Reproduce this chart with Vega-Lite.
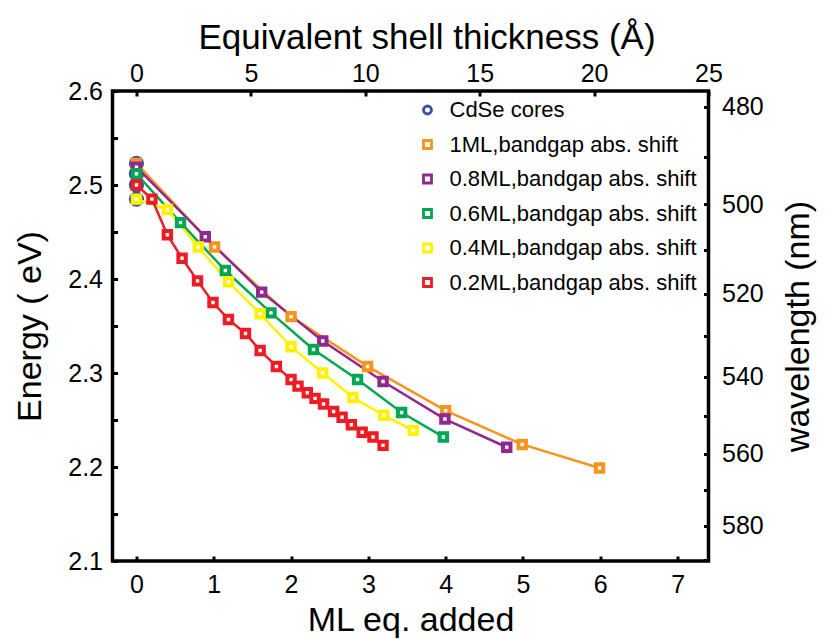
{
  "$schema": "https://vega.github.io/schema/vega-lite/v6.json",
  "width": 596,
  "height": 470,
  "autosize": {"type": "none"},
  "padding": {"left": 112.5, "top": 91, "right": 116.5, "bottom": 78},
  "config": {
    "font": "Liberation Sans",
    "view": {"stroke": "black", "strokeWidth": 3.5},
    "axis": {
      "domain": false, "grid": false, "tickColor": "black", "tickWidth": 3, "tickSize": -5,
      "labelFontSize": 25, "labelColor": "black", "labelFont": "Liberation Sans",
      "titleFontSize": 34, "titleFontWeight": "normal", "titleColor": "black", "titleFont": "Liberation Sans",
      "labelOverlap": false, "labelFlush": false
    }
  },
  "datasets": {
    "cores": [
      {"series": "CdSe cores", "ML": 0, "E": 2.523},
      {"series": "CdSe cores", "ML": 0, "E": 2.512},
      {"series": "CdSe cores", "ML": 0, "E": 2.500},
      {"series": "CdSe cores", "ML": 0, "E": 2.485}
    ],
    "pts": [
      {"series": "1ML,bandgap abs. shift", "ML": 0, "E": 2.523},
      {"series": "1ML,bandgap abs. shift", "ML": 1.01, "E": 2.434},
      {"series": "1ML,bandgap abs. shift", "ML": 2.0, "E": 2.360},
      {"series": "1ML,bandgap abs. shift", "ML": 2.99, "E": 2.307},
      {"series": "1ML,bandgap abs. shift", "ML": 4.0, "E": 2.260},
      {"series": "1ML,bandgap abs. shift", "ML": 4.99, "E": 2.224},
      {"series": "1ML,bandgap abs. shift", "ML": 5.99, "E": 2.199},
      {"series": "0.8ML,bandgap abs. shift", "ML": 0, "E": 2.519},
      {"series": "0.8ML,bandgap abs. shift", "ML": 0.89, "E": 2.445},
      {"series": "0.8ML,bandgap abs. shift", "ML": 1.62, "E": 2.386},
      {"series": "0.8ML,bandgap abs. shift", "ML": 2.41, "E": 2.334},
      {"series": "0.8ML,bandgap abs. shift", "ML": 3.19, "E": 2.291},
      {"series": "0.8ML,bandgap abs. shift", "ML": 3.99, "E": 2.251},
      {"series": "0.8ML,bandgap abs. shift", "ML": 4.79, "E": 2.221},
      {"series": "0.6ML,bandgap abs. shift", "ML": 0, "E": 2.512},
      {"series": "0.6ML,bandgap abs. shift", "ML": 0.57, "E": 2.460},
      {"series": "0.6ML,bandgap abs. shift", "ML": 1.15, "E": 2.409},
      {"series": "0.6ML,bandgap abs. shift", "ML": 1.74, "E": 2.364},
      {"series": "0.6ML,bandgap abs. shift", "ML": 2.29, "E": 2.325},
      {"series": "0.6ML,bandgap abs. shift", "ML": 2.86, "E": 2.293},
      {"series": "0.6ML,bandgap abs. shift", "ML": 3.43, "E": 2.258},
      {"series": "0.6ML,bandgap abs. shift", "ML": 3.97, "E": 2.232},
      {"series": "0.4ML,bandgap abs. shift", "ML": 0, "E": 2.485},
      {"series": "0.4ML,bandgap abs. shift", "ML": 0.40, "E": 2.474},
      {"series": "0.4ML,bandgap abs. shift", "ML": 0.80, "E": 2.434},
      {"series": "0.4ML,bandgap abs. shift", "ML": 1.19, "E": 2.397},
      {"series": "0.4ML,bandgap abs. shift", "ML": 1.60, "E": 2.363},
      {"series": "0.4ML,bandgap abs. shift", "ML": 2.00, "E": 2.328},
      {"series": "0.4ML,bandgap abs. shift", "ML": 2.41, "E": 2.300},
      {"series": "0.4ML,bandgap abs. shift", "ML": 2.80, "E": 2.274},
      {"series": "0.4ML,bandgap abs. shift", "ML": 3.20, "E": 2.255},
      {"series": "0.4ML,bandgap abs. shift", "ML": 3.58, "E": 2.239},
      {"series": "0.2ML,bandgap abs. shift", "ML": 0, "E": 2.500},
      {"series": "0.2ML,bandgap abs. shift", "ML": 0.20, "E": 2.485},
      {"series": "0.2ML,bandgap abs. shift", "ML": 0.40, "E": 2.447},
      {"series": "0.2ML,bandgap abs. shift", "ML": 0.59, "E": 2.422},
      {"series": "0.2ML,bandgap abs. shift", "ML": 0.79, "E": 2.398},
      {"series": "0.2ML,bandgap abs. shift", "ML": 0.99, "E": 2.375},
      {"series": "0.2ML,bandgap abs. shift", "ML": 1.19, "E": 2.357},
      {"series": "0.2ML,bandgap abs. shift", "ML": 1.41, "E": 2.342},
      {"series": "0.2ML,bandgap abs. shift", "ML": 1.60, "E": 2.324},
      {"series": "0.2ML,bandgap abs. shift", "ML": 1.81, "E": 2.307},
      {"series": "0.2ML,bandgap abs. shift", "ML": 2.00, "E": 2.293},
      {"series": "0.2ML,bandgap abs. shift", "ML": 2.09, "E": 2.286},
      {"series": "0.2ML,bandgap abs. shift", "ML": 2.21, "E": 2.279},
      {"series": "0.2ML,bandgap abs. shift", "ML": 2.31, "E": 2.273},
      {"series": "0.2ML,bandgap abs. shift", "ML": 2.42, "E": 2.267},
      {"series": "0.2ML,bandgap abs. shift", "ML": 2.55, "E": 2.259},
      {"series": "0.2ML,bandgap abs. shift", "ML": 2.66, "E": 2.253},
      {"series": "0.2ML,bandgap abs. shift", "ML": 2.78, "E": 2.245},
      {"series": "0.2ML,bandgap abs. shift", "ML": 2.92, "E": 2.237},
      {"series": "0.2ML,bandgap abs. shift", "ML": 3.06, "E": 2.232},
      {"series": "0.2ML,bandgap abs. shift", "ML": 3.19, "E": 2.223}
    ]
  },
  "layer": [
    {
      "encoding": {
        "x": {"field": "ML", "type": "quantitative", "scale": {"domain": [-0.31, 7.4], "nice": false, "zero": false},
              "axis": {"orient": "bottom", "title": "ML eq. added", "values": [0, 1, 2, 3, 4, 5, 6, 7], "labelPadding": 16, "titlePadding": 6}},
        "y": {"field": "E", "type": "quantitative", "scale": {"domain": [2.1, 2.6], "nice": false, "zero": false},
              "axis": {"orient": "left", "title": "Energy ( eV)", "values": [2.1, 2.15, 2.2, 2.25, 2.3, 2.35, 2.4, 2.45, 2.5, 2.55, 2.6],
                       "labelExpr": "abs(datum.value*10 - round(datum.value*10)) < 0.01 ? format(datum.value, '.1f') : ''",
                       "labelPadding": 15, "titlePadding": 20}},
        "color": {"field": "series", "type": "nominal",
                  "scale": {"domain": ["CdSe cores", "1ML,bandgap abs. shift", "0.8ML,bandgap abs. shift", "0.6ML,bandgap abs. shift", "0.4ML,bandgap abs. shift", "0.2ML,bandgap abs. shift"],
                            "range": ["#3953A4", "#F7941D", "#92278F", "#00A651", "#FFF200", "#ED1C24"]},
                  "legend": {"orient": "none", "legendX": 304, "legendY": 8, "title": null, "labelFontSize": 22, "labelColor": "black", "labelLimit": 0,
                             "symbolSize": 64, "symbolStrokeWidth": 2.8, "rowPadding": 12.5, "labelOffset": 11, "symbolFillColor": "white"}}
      },
      "layer": [
        {"data": {"name": "cores"},
         "mark": {"type": "point", "shape": "circle", "filled": false, "size": 170, "strokeWidth": 2.2, "opacity": 1},
         "encoding": {"shape": {"field": "series", "type": "nominal",
            "scale": {"domain": ["CdSe cores", "1ML,bandgap abs. shift", "0.8ML,bandgap abs. shift", "0.6ML,bandgap abs. shift", "0.4ML,bandgap abs. shift", "0.2ML,bandgap abs. shift"],
                      "range": ["circle", "square", "square", "square", "square", "square"]}}}},
        {"data": {"name": "pts"},
         "mark": {"type": "line", "strokeWidth": 2.5},
         "encoding": {}},
        {"data": {"name": "pts"},
         "mark": {"type": "point", "filled": false, "fill": "white", "size": 55, "strokeWidth": 4, "opacity": 1},
         "encoding": {"shape": {"field": "series", "type": "nominal"}}}
      ]
    },
    {
      "data": {"name": "cores"},
      "mark": {"type": "point", "opacity": 0},
      "encoding": {
        "x": {"field": "ML", "type": "quantitative", "scale": {"domain": [-1.05, 25], "nice": false, "zero": false},
              "axis": {"orient": "top", "title": "Equivalent shell thickness (Å)", "titleFontSize": 35, "titleX": 314, "values": [0, 5, 10, 15, 20, 25], "labelPadding": 10, "titlePadding": 6}},
        "y": {"field": "E", "type": "quantitative", "scale": {"domain": [2.1, 2.6], "nice": false, "zero": false},
              "axis": {"orient": "right", "title": "wavelength (nm)", "titleAngle": 270, "titleBaseline": "top",
                       "values": [2.583, 2.53029, 2.47968, 2.43106, 2.38431, 2.33932, 2.296, 2.25425, 2.214, 2.17516, 2.13766, 2.10142],
                       "labelExpr": "round(1239.84/datum.value) % 20 == 0 ? '' + round(1239.84/datum.value) : ''",
                       "labelPadding": 18, "titlePadding": 18}}
      }
    }
  ],
  "resolve": {"scale": {"x": "independent", "y": "independent"}}
}
